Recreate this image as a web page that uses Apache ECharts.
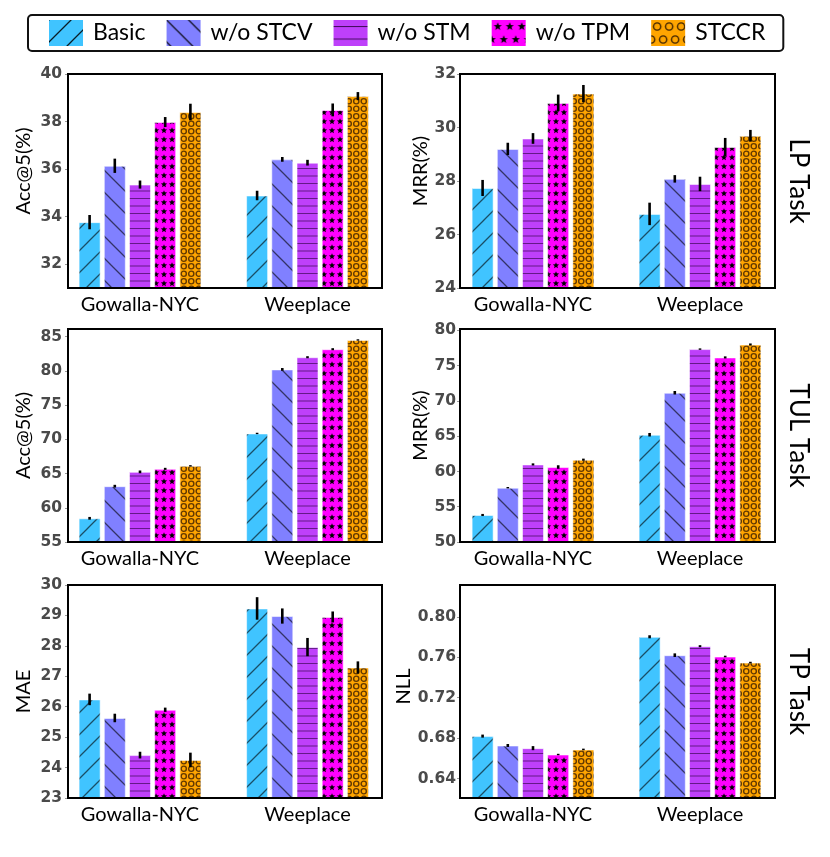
<!DOCTYPE html>
<html><head><meta charset="utf-8">
<script src="https://cdn.jsdelivr.net/npm/echarts@6/dist/echarts.min.js"></script>
<style>html,body{margin:0;padding:0;background:#fff}#c{width:830px;height:857px}</style>
</head><body><div id="c"></div>
<script>
// ---------- data ----------
const categories = ['Gowalla-NYC', 'Weeplace'];
const methods = ['Basic', 'w/o STCV', 'w/o STM', 'w/o TPM', 'STCCR'];

// LP task - Acc@5(%)
const lpAccNYC = [33.77, 36.14, 35.35, 37.98, 38.40];
const lpAccWee = [34.89, 36.41, 36.27, 38.49, 39.07];
const lpAccErrNYC = [0.30, 0.30, 0.17, 0.21, 0.35];
const lpAccErrWee = [0.20, 0.10, 0.12, 0.27, 0.17];
const lpAccTicks = [32, 34, 36, 38, 40];
// LP task - MRR(%)
const lpMrrNYC = [27.74, 29.20, 29.59, 30.92, 31.27];
const lpMrrWee = [26.77, 28.08, 27.89, 29.27, 29.69];
const lpMrrErrNYC = [0.30, 0.23, 0.20, 0.31, 0.32];
const lpMrrErrWee = [0.42, 0.14, 0.27, 0.34, 0.22];
const lpMrrTicks = [24, 26, 28, 30, 32];
// TUL task - Acc@5(%)
const tulAccNYC = [58.46, 63.15, 65.24, 65.68, 66.12];
const tulAccWee = [70.85, 80.20, 81.98, 83.15, 84.50];
const tulAccErrNYC = [0.20, 0.20, 0.20, 0.15, 0.10];
const tulAccErrWee = [0.10, 0.20, 0.15, 0.15, 0.10];
const tulAccTicks = [55, 60, 65, 70, 75, 80, 85];
// TUL task - MRR(%)
const tulMrrNYC = [53.83, 57.70, 61.00, 60.63, 61.67];
const tulMrrWee = [65.21, 71.16, 77.35, 76.17, 78.00];
const tulMrrErrNYC = [0.15, 0.10, 0.15, 0.25, 0.15];
const tulMrrErrWee = [0.25, 0.25, 0.10, 0.15, 0.15];
const tulMrrTicks = [50, 55, 60, 65, 70, 75, 80];
// TP task - MAE
const tpMaeNYC = [26.24, 25.63, 24.41, 25.90, 24.25];
const tpMaeWee = [29.23, 28.98, 27.96, 28.95, 27.29];
const tpMaeErrNYC = [0.19, 0.14, 0.11, 0.07, 0.24];
const tpMaeErrWee = [0.37, 0.25, 0.30, 0.18, 0.20];
const tpMaeTicks = [23, 24, 25, 26, 27, 28, 29, 30];
// TP task - NLL
const tpNllNYC = [0.6820, 0.6727, 0.6701, 0.6638, 0.6688];
const tpNllWee = [0.7802, 0.7620, 0.7709, 0.7607, 0.7547];
const tpNllErrNYC = [0.0015, 0.0015, 0.0020, 0.0007, 0.0008];
const tpNllErrWee = [0.0015, 0.0018, 0.0010, 0.0008, 0.0008];
const tpNllTicks = [0.64, 0.68, 0.72, 0.76, 0.80];

const taskLabels = ['LP Task', 'TUL Task', 'TP Task'];

// ---------- styles ----------
const baseColors = ['#40C4FF', '#8080FF', '#BE40FA', '#FF00FF', '#FFA500'];
const TXT = 'Lato';

function tile(w, h, bg, draw) {
  const c = document.createElement('canvas');
  c.width = w; c.height = h;
  const g = c.getContext('2d');
  g.fillStyle = bg; g.fillRect(0, 0, w, h);
  draw(g, w, h);
  return c;
}
function diag(up, s, col) {
  return (g) => {
    g.strokeStyle = col; g.lineWidth = 1.3; g.beginPath();
    if (up) {
      g.moveTo(0, s); g.lineTo(s, 0);
      g.moveTo(-3, 3); g.lineTo(3, -3);
      g.moveTo(s - 3, s + 3); g.lineTo(s + 3, s - 3);
    } else {
      g.moveTo(0, 0); g.lineTo(s, s);
      g.moveTo(-3, s - 3); g.lineTo(3, s + 3);
      g.moveTo(s - 3, -3); g.lineTo(s + 3, 3);
    }
    g.stroke();
  };
}
function hlines(ys, col) {
  return (g, w) => {
    g.strokeStyle = col; g.lineWidth = 1.2; g.beginPath();
    ys.forEach(y => { g.moveTo(0, y); g.lineTo(w, y); });
    g.stroke();
  };
}
function starAt(g, cx, cy, R, r) {
  g.beginPath();
  for (let i = 0; i < 10; i++) {
    const a = -Math.PI / 2 + i * Math.PI / 5;
    const rr = i % 2 ? r : R;
    const x = cx + rr * Math.cos(a), y = cy + rr * Math.sin(a);
    i ? g.lineTo(x, y) : g.moveTo(x, y);
  }
  g.closePath(); g.fill();
}
function stars(pts, R, r) {
  return (g) => { g.fillStyle = '#000'; pts.forEach(p => starAt(g, p[0], p[1], R, r)); };
}
function rings(pts, rad, col, lw) {
  return (g) => {
    g.strokeStyle = col; g.lineWidth = lw;
    pts.forEach(p => { g.beginPath(); g.arc(p[0], p[1], rad, 0, Math.PI * 2); g.stroke(); });
  };
}
const HC = 'rgba(0,0,0,0.6)';
const barTiles = [
  tile(22, 22, baseColors[0], diag(true, 22, HC)),
  tile(22, 22, baseColors[1], diag(false, 22, HC)),
  tile(15, 15, baseColors[2], hlines([3.5, 11], 'rgba(40,0,60,0.6)')),
  tile(16, 18, baseColors[3], stars([[4, 4.5], [12, 4.5], [4, 13.5], [12, 13.5]], 3.3, 1.45)),
  tile(15, 15, baseColors[4], rings([[3.75, 3.75], [11.25, 3.75], [3.75, 11.25], [11.25, 11.25]], 2.6, 'rgba(60,30,0,0.8)', 1.4))
];
const legTiles = [
  tile(22, 22, baseColors[0], diag(true, 22, 'rgba(0,0,0,0.85)')),
  tile(22, 22, baseColors[1], diag(false, 22, 'rgba(0,0,0,0.85)')),
  tile(26, 26, baseColors[2], hlines([6.5, 19], 'rgba(40,0,60,0.8)')),
  tile(24, 26, baseColors[3], stars([[6, 6.5], [18, 6.5], [0, 19.5], [12, 19.5], [24, 19.5]], 4.3, 1.8)),
  tile(24, 26, baseColors[4], rings([[6, 6.5], [18, 6.5], [0, 19.5], [12, 19.5], [24, 19.5]], 3.6, 'rgba(40,20,0,0.9)', 1.4))
];
const pat = t => ({ image: t, repeat: 'repeat' });

// ---------- layout ----------
const PITCH = 25.2, BW = 22;
const cols = [
  { boxL: 68, boxR: 382, barL: 56.25, barR: 391.25, nameGap: 34, lblMargin: 6 },
  { boxL: 460, boxR: 775, barL: 449.5, barR: 783.5, nameGap: 27, lblMargin: 4 }
];
const rows = [{ top: 74, h: 214 }, { top: 329, h: 213 }, { top: 585, h: 213 }];

const panels = [
  { nyc: lpAccNYC, wee: lpAccWee, eN: lpAccErrNYC, eW: lpAccErrWee, min: 31, max: 40, ticks: lpAccTicks, name: 'Acc@5(%)', dec: 0, shift: 10 },
  { nyc: lpMrrNYC, wee: lpMrrWee, eN: lpMrrErrNYC, eW: lpMrrErrWee, min: 24, max: 32, ticks: lpMrrTicks, name: 'MRR(%)', dec: 0, shift: 10 },
  { nyc: tulAccNYC, wee: tulAccWee, eN: tulAccErrNYC, eW: tulAccErrWee, min: 55, max: 86.1, ticks: tulAccTicks, name: 'Acc@5(%)', dec: 0, shift: 0 },
  { nyc: tulMrrNYC, wee: tulMrrWee, eN: tulMrrErrNYC, eW: tulMrrErrWee, min: 50, max: 80.2, ticks: tulMrrTicks, name: 'MRR(%)', dec: 0, shift: 10 },
  { nyc: tpMaeNYC, wee: tpMaeWee, eN: tpMaeErrNYC, eW: tpMaeErrWee, min: 23, max: 30, ticks: tpMaeTicks, name: 'MAE', dec: 0, shift: 0 },
  { nyc: tpNllNYC, wee: tpNllWee, eN: tpNllErrNYC, eW: tpNllErrWee, min: 0.6208, max: 0.8314, ticks: tpNllTicks, name: 'NLL', dec: 2, shift: 5 }
];

const grid = [], xAxis = [], yAxis = [], series = [];
panels.forEach((p, i) => {
  const c = cols[i % 2], r = rows[Math.floor(i / 2)];
  const ga = grid.length;
  grid.push({ left: c.barL, top: r.top, width: c.barR - c.barL, height: r.h, show: false });
  grid.push({ left: c.boxL, top: r.top, width: c.boxR - c.boxL, height: r.h, show: true, z: 5,
    borderColor: '#000', borderWidth: 2, backgroundColor: 'transparent' });
  xAxis.push({ type: 'category', gridIndex: ga, data: categories,
    axisLine: { show: false }, axisTick: { show: false }, splitLine: { show: false },
    axisLabel: { fontFamily: TXT, fontSize: 20, color: '#000', margin: 7 } });
  xAxis.push({ type: 'value', gridIndex: ga + 1, show: false });
  yAxis.push({ type: 'value', gridIndex: ga, min: p.min, max: p.max,
    offset: c.barL - c.boxL,
    name: p.name, nameLocation: 'middle', nameGap: c.nameGap,
    nameTextStyle: { fontFamily: TXT, fontSize: 20, color: '#000', padding: [0, 0, 0, 2 * p.shift] },
    axisLine: { show: false }, splitLine: { show: false },
    axisTick: { show: true, length: 3, lineStyle: { color: '#999' }, customValues: p.ticks },
    axisLabel: { customValues: p.ticks, margin: c.lblMargin, fontFamily: 'DejaVu Sans', fontWeight: 'bold',
      fontSize: 15.5, color: '#4a4a4a', formatter: v => Number(v).toFixed(p.dec) } });
  yAxis.push({ type: 'value', gridIndex: ga + 1, show: false });
  methods.forEach((m, k) => {
    series.push({ type: 'bar', name: m, xAxisIndex: ga, yAxisIndex: ga,
      data: [p.nyc[k], p.wee[k]], barWidth: BW, barGap: ((PITCH - BW) / BW * 100).toFixed(1) + '%',
      itemStyle: { color: pat(barTiles[k]), borderColor: 'rgba(255,255,255,0.55)', borderWidth: 1 },
      emphasis: { disabled: true }, z: 2 });
  });
  const err = [];
  methods.forEach((m, k) => {
    err.push([0, p.nyc[k] - p.eN[k], p.nyc[k] + p.eN[k], k]);
    err.push([1, p.wee[k] - p.eW[k], p.wee[k] + p.eW[k], k]);
  });
  series.push({ type: 'custom', name: 'err' + i, xAxisIndex: ga, yAxisIndex: ga, z: 3, data: err,
    encode: { x: 0, y: [1, 2] },
    renderItem: (params, api) => {
      const a = api.coord([api.value(0), api.value(1)]);
      const b = api.coord([api.value(0), api.value(2)]);
      const dx = (api.value(3) - 2) * PITCH;
      return { type: 'line', shape: { x1: a[0] + dx, y1: a[1], x2: a[0] + dx, y2: b[1] },
        style: { stroke: '#000', lineWidth: 2.6 } };
    } });
});

const graphic = taskLabels.map((t, i) => ({
  type: 'text', x: 798, y: rows[i].top + rows[i].h / 2, rotation: -Math.PI / 2,
  style: { text: t, font: '26px ' + TXT, fill: '#000', align: 'center', verticalAlign: 'middle' }
}));

const option = {
  animation: false,
  backgroundColor: '#fff',
  legend: {
    left: 28, top: 15, padding: [5, 18, 5, 21], itemGap: 21, itemWidth: 34, itemHeight: 26,
    borderColor: '#111', borderWidth: 2, borderRadius: 4,
    icon: 'rect',
    textStyle: { fontFamily: TXT, fontSize: 23, color: '#000', padding: [0, 0, 0, 5] },
    data: methods.map((m, k) => ({ name: m, itemStyle: { color: pat(legTiles[k]), borderWidth: 0 } })),
    selectedMode: false
  },
  grid, xAxis, yAxis, series, graphic
};
const chart = echarts.init(document.getElementById('c'), null, { renderer: 'canvas' });
chart.setOption(option);
</script></body></html>
